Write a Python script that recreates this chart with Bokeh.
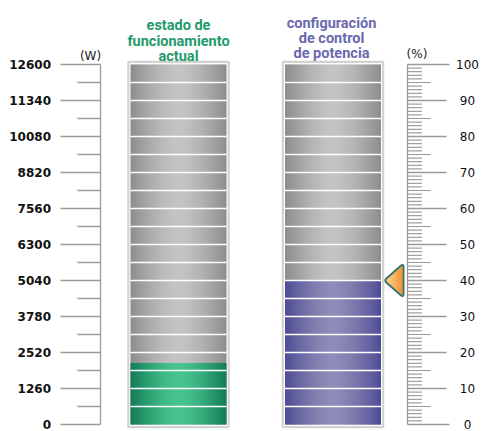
import numpy as np
from bokeh.plotting import figure
from bokeh.models import Range1d, ColumnDataSource
from bokeh.embed import file_html
from bokeh.resources import INLINE
from bokeh.core.properties import value

# ------------------------------------------------------------------ data
w_ticks = [0, 1260, 2520, 3780, 5040, 6300, 7560, 8820, 10080, 11340, 12600]
w_tick_labels = ["0", "1260", "2520", "3780", "5040", "6300",
                 "7560", "8820", "10080", "11340", "12600"]
w_minor_ticks = [630, 1890, 3150, 4410, 5670, 6930, 8190, 9450, 10710, 11970]
w_segment = 630            # one block of the left bar
w_max = 12600
power_actual_w = 2150      # estado de funcionamiento actual

pct_ticks = [0, 10, 20, 30, 40, 50, 60, 70, 80, 90, 100]
pct_tick_labels = ["0", "10", "20", "30", "40", "50", "60", "70", "80", "90", "100"]
pct_mid_ticks = [5, 15, 25, 35, 45, 55, 65, 75, 85, 95]
pct_minor_ticks = [v for v in range(1, 100) if v % 5 != 0]
pct_segment = 5
pct_max = 100
power_setting_pct = 40     # configuración de control de potencia

title_actual = ["estado de", "funcionamiento", "actual"]
title_setting = ["configuración", "de control", "de potencia"]
unit_w = "(W)"
unit_pct = "(%)"

# ------------------------------------------------------------------ layout
FIG_W, FIG_H = 481, 431
Y_ZERO = 424.0        # px (from figure top) where value 0 sits
SCALE_PX = 360.0      # px for full scale
w_per_px = w_max / SCALE_PX
pct_per_px = pct_max / SCALE_PX


def w_at(px):
    return (Y_ZERO - px) * w_per_px


def pct_at(px):
    return (Y_ZERO - px) * pct_per_px


p = figure(width=FIG_W, height=FIG_H,
           x_range=Range1d(0, FIG_W), y_range=Range1d(w_at(FIG_H), w_at(0)),
           x_axis_type=None, y_axis_type=None, toolbar_location=None,
           output_backend="svg", min_border=0, outline_line_color=None,
           background_fill_color="white", border_fill_color="white")
p.extra_y_ranges = {"pct": Range1d(pct_at(FIG_H), pct_at(0))}

AXIS_COL = "#9a9a9a"
NUM_FONT = value("DejaVu Sans")
TITLE_FONT = value("Roboto")


def hex_rgb(h):
    return tuple(int(h[i:i + 2], 16) for i in (1, 3, 5))


def mix(c0, c1, f):
    a, b = hex_rgb(c0), hex_rgb(c1)
    return "#%02x%02x%02x" % tuple(int(round(a[i] + (b[i] - a[i]) * f)) for i in range(3))


def strips(x0, x1, bottom, top, edge, center, n=48):
    xs = np.linspace(x0, x1, n + 1)
    mids = (xs[:-1] + xs[1:]) / 2
    t = (mids - x0) / (x1 - x0)
    f = 1 - np.abs(2 * t - 1) ** 1.5
    right = xs[1:].copy()
    right[:-1] += 0.6
    return ColumnDataSource(dict(left=xs[:-1], right=right,
                                 bottom=[bottom] * n, top=[top] * n,
                                 color=[mix(edge, center, fi) for fi in f]))


def draw_bar(x0, x1, vmax, seg, val, per_px, edge, center, rng):
    # frame
    pad_x, pad_y = 2.2, 2.6
    p.quad(left=[x0 - pad_x], right=[x1 + pad_x],
           bottom=[-pad_y * per_px], top=[vmax + pad_y * per_px],
           fill_color="white", line_color="#d2d2d2", line_width=2.2,
           y_range_name=rng)
    # empty (grey) part
    p.quad(left="left", right="right", bottom="bottom", top="top",
           fill_color="color", line_color=None,
           source=strips(x0, x1, 0, vmax, "#8c8c8c", "#c4c4c4"), y_range_name=rng)
    # filled part
    p.quad(left="left", right="right", bottom="bottom", top="top",
           fill_color="color", line_color=None,
           source=strips(x0, x1, 0, val, edge, center), y_range_name=rng)
    # block separators
    bounds = [seg * k for k in range(1, int(round(vmax / seg)))]
    p.segment(x0=[x0] * len(bounds), x1=[x1] * len(bounds), y0=bounds, y1=bounds,
              line_color="white", line_width=1.6, y_range_name=rng)


# ------------------------------------------------------------------ left scale (W)
AX_L = 100.0
p.segment(x0=[AX_L], x1=[AX_L], y0=[0], y1=[w_max], line_color=AXIS_COL, line_width=1.3)
p.segment(x0=[AX_L - 40] * len(w_ticks), x1=[AX_L] * len(w_ticks), y0=w_ticks, y1=w_ticks,
          line_color=AXIS_COL, line_width=1.3)
p.segment(x0=[AX_L - 23] * len(w_minor_ticks), x1=[AX_L] * len(w_minor_ticks),
          y0=w_minor_ticks, y1=w_minor_ticks, line_color=AXIS_COL, line_width=1.3)
p.text(x=[AX_L - 49.5] * len(w_ticks), y=w_ticks, text=w_tick_labels,
       text_align="right", text_baseline="middle", text_font=NUM_FONT,
       text_font_style="bold", text_font_size="12px", text_color="#111111")
p.text(x=[90], y=[w_at(55.5)], text=[unit_w], text_align="center", text_baseline="middle",
       text_font=NUM_FONT, text_font_size="12px", text_color="#222222")

# ------------------------------------------------------------------ bars
draw_bar(130.0, 226.0, w_max, w_segment, power_actual_w, w_per_px,
         "#127a56", "#48c48e", "default")
draw_bar(284.5, 380.5, pct_max, pct_segment, power_setting_pct, pct_per_px,
         "#4d4c94", "#8e8cb8", "pct")

# titles
title_base_a = [25.0, 40.5, 56.0]
title_base_s = [23.0, 38.0, 53.0]
p.text(x=[178] * 3, y=[w_at(v) for v in title_base_a], text=title_actual,
       text_align="center", text_baseline="alphabetic", text_font=TITLE_FONT,
       text_font_style="bold", text_font_size="14.5px", text_color="#239a6b")
p.text(x=[331] * 3, y=[w_at(v) for v in title_base_s], text=title_setting,
       text_align="center", text_baseline="alphabetic", text_font=TITLE_FONT,
       text_font_style="bold", text_font_size="14.5px", text_color="#6a69ae")

# ------------------------------------------------------------------ right scale (%)
AX_R = 407.0
end_ticks = [pct_ticks[0], pct_ticks[-1]]
inner_ticks = pct_ticks[1:-1]
p.segment(x0=[AX_R], x1=[AX_R], y0=[0], y1=[pct_max], line_color=AXIS_COL,
          line_width=1.3, y_range_name="pct")
p.segment(x0=[AX_R] * 2, x1=[AX_R + 42] * 2, y0=end_ticks, y1=end_ticks,
          line_color=AXIS_COL, line_width=1.3, y_range_name="pct")
p.segment(x0=[AX_R] * len(inner_ticks), x1=[AX_R + 39] * len(inner_ticks),
          y0=inner_ticks, y1=inner_ticks, line_color=AXIS_COL, line_width=1.3,
          y_range_name="pct")
p.segment(x0=[AX_R] * len(pct_mid_ticks), x1=[AX_R + 23] * len(pct_mid_ticks),
          y0=pct_mid_ticks, y1=pct_mid_ticks, line_color=AXIS_COL, line_width=1.2,
          y_range_name="pct")
p.segment(x0=[AX_R] * len(pct_minor_ticks), x1=[AX_R + 14.5] * len(pct_minor_ticks),
          y0=pct_minor_ticks, y1=pct_minor_ticks, line_color="#8a8a8a", line_width=1.0,
          y_range_name="pct")
p.text(x=[467] * len(pct_ticks), y=pct_ticks, text=pct_tick_labels,
       text_align="center", text_baseline="middle", text_font=NUM_FONT,
       text_font_size="12px", text_color="#111111", y_range_name="pct")
p.text(x=[416.5], y=[pct_at(53.5)], text=[unit_pct], text_align="center",
       text_baseline="middle", text_font=NUM_FONT, text_font_size="12px",
       text_color="#222222", y_range_name="pct")

# ------------------------------------------------------------------ marker (setting pointer)
tip_x, base_x, half_h = 383.5, 403.0, 17.0


def rounded(poly, r, k=6):
    out = []
    n = len(poly)
    for i in range(n):
        v = np.array(poly[i], float)
        a = np.array(poly[i - 1], float)
        b = np.array(poly[(i + 1) % n], float)
        pa = v + (a - v) / np.linalg.norm(a - v) * r
        pb = v + (b - v) / np.linalg.norm(b - v) * r
        for s in np.linspace(0, 1, k):
            q = (1 - s) ** 2 * pa + 2 * (1 - s) * s * v + s ** 2 * pb
            out.append(q)
    return out


shape = rounded([(tip_x, 0.0), (base_x, -half_h), (base_x, half_h)], 3.5)
mx = [q[0] for q in shape]
my = [power_setting_pct - q[1] * pct_per_px for q in shape]
p.patch(mx, my, fill_color="#ffd28c", line_color=None, y_range_name="pct")

ns = 12
gx = np.linspace(tip_x + 3.0, base_x - 1.0, ns + 1)
g_xs, g_ys, g_col = [], [], []
for i in range(ns):
    xa, xb = gx[i], min(gx[i + 1] + 0.5, base_x - 1.0)
    ha = max(half_h * (xa - tip_x) / (base_x - tip_x) - 1.5, 0) * pct_per_px
    hb = max(half_h * (xb - tip_x) / (base_x - tip_x) - 1.5, 0) * pct_per_px
    g_xs.append([xa, xb, xb, xa])
    g_ys.append([power_setting_pct + ha, power_setting_pct + hb,
                 power_setting_pct - hb, power_setting_pct - ha])
    g_col.append(mix("#ffd08a", "#f3902f", (i + 0.5) / ns))
p.patches(xs=g_xs, ys=g_ys, fill_color=g_col, line_color=None, y_range_name="pct")
p.patch(mx, my, fill_alpha=0, line_color="#3a746b", line_width=2.0,
        line_join="round", y_range_name="pct")

open("out.html", "w").write(file_html(p, INLINE))
